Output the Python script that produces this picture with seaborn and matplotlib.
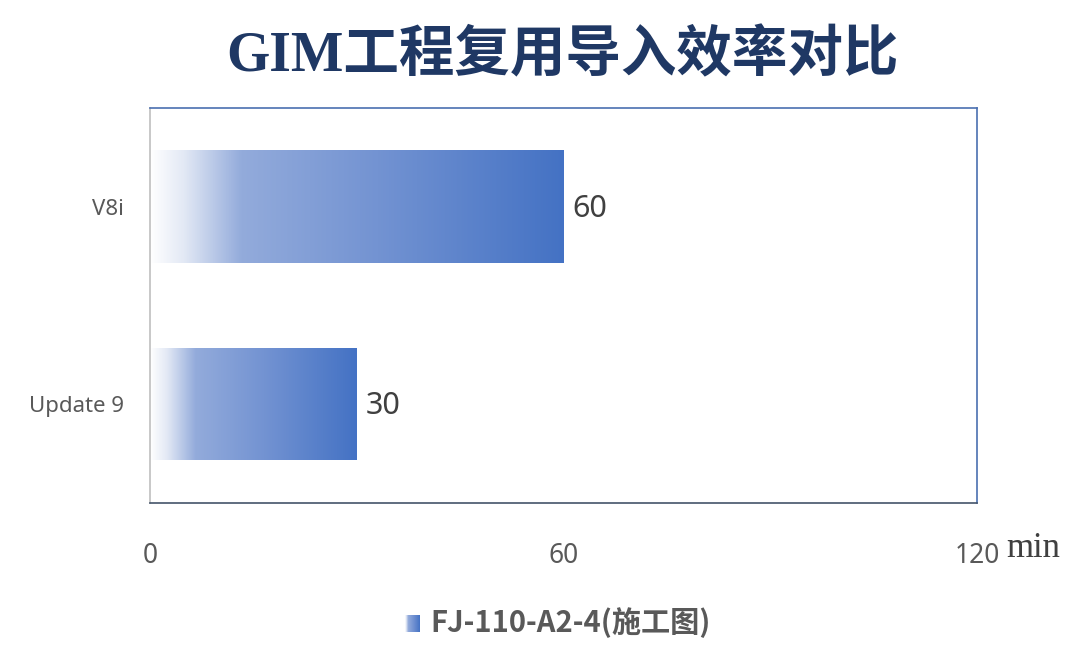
import numpy as np
import pandas as pd
import matplotlib
matplotlib.use("Agg")
import matplotlib.pyplot as plt
import seaborn as sns
from matplotlib.colors import LinearSegmentedColormap

# data
categories = ["V8i", "Update 9"]
minutes = [60, 30]
series_name = "FJ-110-A2-4(施工图)"
x_ticks = [0, 60, 120]
x_unit = "min"
title = "GIM工程复用导入效率对比"

df = pd.DataFrame({"version": categories, "minutes": minutes})

sns.set_theme(style="white")
plt.rcParams["font.family"] = ["Noto Sans", "Noto Sans CJK SC", "DejaVu Sans"]

grad_cmap = LinearSegmentedColormap.from_list(
    "bar_grad",
    [(0.0, "#ffffff"), (0.08, "#e3e9f5"), (0.22, "#93abdb"),
     (0.55, "#7393d2"), (1.0, "#4472c4")],
)

fig = plt.figure(figsize=(10.8, 6.66), dpi=100)
ax = fig.add_axes([0.139, 0.245, 0.766, 0.593])

sns.barplot(data=df, x="minutes", y="version", orient="h", ax=ax,
            width=0.57, color="#4472c4", saturation=1)

ax.set_xlim(0, 120)
ylim = ax.get_ylim()

# gradient fill clipped to each bar
grad = np.linspace(0, 1, 256).reshape(1, -1)
for patch, val in zip(ax.patches, minutes):
    x0, y0 = patch.get_x(), patch.get_y()
    w, h = patch.get_width(), patch.get_height()
    patch.set_facecolor("none")
    patch.set_edgecolor("none")
    im = ax.imshow(grad, cmap=grad_cmap, aspect="auto",
                   extent=[x0, x0 + w, y0 + h, y0], zorder=2)
    im.set_clip_path(patch)
    ax.text(x0 + w + 1.2, y0 + h / 2 + 0.01, f"{val}", va="center", ha="left",
            fontsize=22, color="#404040")

ax.set_xlim(0, 120)
ax.set_ylim(ylim)

ax.set_xticks(x_ticks)
ax.set_xticklabels([str(t) for t in x_ticks], fontsize=19, color="#595959")
ax.tick_params(axis="x", length=0, pad=28)
ax.tick_params(axis="y", length=0, pad=19, labelsize=16, labelcolor="#595959")
ax.set_xlabel("")
ax.set_ylabel("")

for side, col in [("top", "#4a6fb0"), ("right", "#4a6fb0"),
                  ("bottom", "#44546a"), ("left", "#bfbfbf")]:
    ax.spines[side].set_visible(True)
    ax.spines[side].set_color(col)
    ax.spines[side].set_linewidth(1.2)

# unit label next to last tick
fig.text(1006 / 1080, 1 - 557 / 666, x_unit, fontsize=25, color="#404040",
         family=["Liberation Serif", "DejaVu Serif"], va="baseline", ha="left")

fig.text(0.521, 0.915, title, fontsize=40, fontweight="bold", color="#1f3864",
         family=["Liberation Serif", "Noto Sans CJK SC"], ha="center", va="center")

# legend: gradient swatch and label
lax = fig.add_axes([405 / 1080, 1 - 632 / 666, 15 / 1080, 17 / 666])
lax.imshow(grad, cmap=grad_cmap, aspect="auto")
lax.axis("off")
fig.text(430 / 1080, 1 - 623 / 666, series_name, fontsize=21, fontweight="bold",
         color="#595959", family=["Noto Sans CJK SC", "DejaVu Sans"],
         ha="left", va="center")

fig.savefig("out.png", dpi=100)
